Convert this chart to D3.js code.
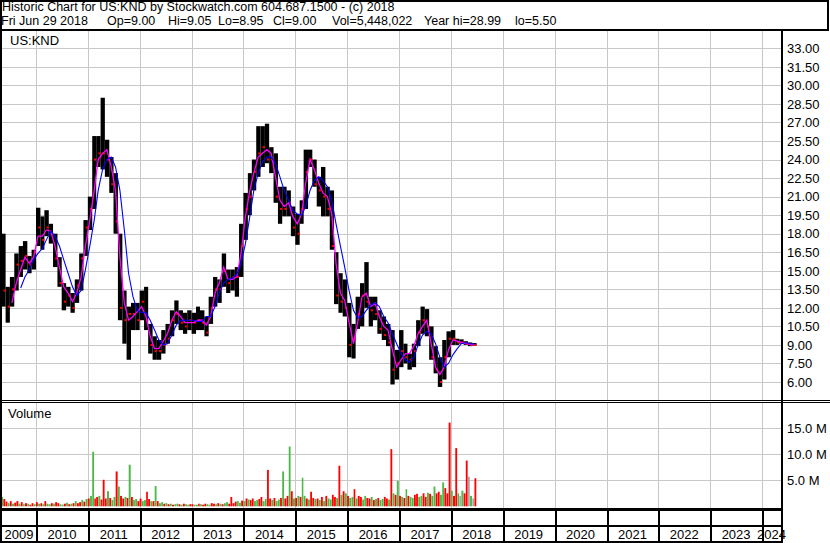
<!DOCTYPE html>
<html><head><meta charset="utf-8">
<script src="https://cdn.jsdelivr.net/npm/d3@7"></script>
<style>
body{margin:0;background:#fff}
svg{display:block}
text{font-family:"Liberation Sans",Arial,sans-serif;font-size:13px;fill:#000;white-space:pre}
text.hdr{font-size:12.5px}
</style>
</head><body>
<svg id="c" width="830" height="543"></svg>
<script>
// ---- Data (monthly, May 2009 .. Jun 2018) ----
const high = [18.0,13.7,14.5,16.4,17.0,17.4,16.2,16.7,
 20.1,19.4,19.9,18.8,18.0,16.1,14.0,13.7,13.2,14.3,16.4,19.1,
 21.0,25.9,25.9,29.0,25.6,24.2,22.9,18.0,13.4,12.1,12.4,12.4,
 13.4,13.7,10.7,9.7,9.4,10.2,10.7,11.8,12.6,11.8,11.6,11.8,
 11.6,12.1,11.8,11.3,12.9,14.5,14.3,16.4,15.1,15.1,15.3,18.8,
 21.3,22.9,24.0,26.7,26.7,26.9,25.0,24.5,21.8,21.8,21.5,20.2,
 19.6,20.7,24.8,24.8,24.0,22.6,23.4,21.8,21.5,16.5,14.8,14.3,
 12.4,10.7,12.9,14.0,15.7,12.9,12.9,11.8,11.3,10.7,10.2,8.6,
 10.2,9.1,8.3,9.1,11.0,12.1,11.9,10.5,8.9,8.0,9.4,10.1,
 10.2,9.5,9.45,9.3,9.2,9.15];
const low = [12.1,10.8,12.1,13.4,14.5,15.1,14.8,15.1,
 17.0,16.7,17.8,17.2,15.3,13.7,11.8,12.1,11.6,12.4,13.4,16.2,
 18.3,20.0,23.4,23.2,22.6,21.3,18.0,11.0,9.1,7.8,10.2,10.2,
 11.0,10.2,8.3,7.8,7.8,8.3,9.1,9.7,10.7,10.2,9.9,10.2,
 9.9,10.2,10.2,9.7,10.7,12.1,12.4,13.7,13.2,13.4,12.9,14.5,
 17.5,19.5,21.5,22.6,23.4,23.7,22.9,20.5,18.8,19.4,19.4,17.8,
 17.1,18.8,20.0,23.4,21.8,20.2,19.4,19.4,16.7,12.3,11.6,11.3,
 8.0,7.9,10.3,10.5,12.0,10.5,11.0,9.9,9.4,8.9,5.8,6.2,
 7.2,7.5,7.0,7.2,8.9,9.9,9.7,7.8,6.7,5.6,6.2,8.0,
 9.0,9.0,9.1,9.0,8.9,8.95];
const close = [13.4,12.1,13.5,15.5,15.8,16.2,15.5,16.5,
 18.5,17.5,18.5,18.0,16.0,14.0,12.5,13.0,12.0,13.8,16.0,18.5,
 20.0,24.0,24.5,24.5,24.0,22.0,19.0,12.0,11.0,11.5,11.5,11.0,
 12.5,11.0,9.0,8.5,8.5,9.0,9.5,11.0,11.5,10.8,10.5,11.0,
 10.8,11.0,10.8,10.0,12.0,13.5,13.5,15.0,14.0,14.5,14.5,17.0,
 20.0,21.0,23.0,24.5,25.0,24.0,24.0,21.0,20.0,20.0,20.5,18.5,
 18.0,20.0,23.0,24.0,22.0,21.5,21.0,20.0,17.0,13.0,12.5,12.0,
 9.0,9.5,11.5,13.0,12.5,11.8,11.5,10.3,9.8,9.2,7.0,7.5,
 8.5,8.0,7.8,8.5,10.0,11.0,10.5,8.0,7.0,6.0,8.0,9.5,
 9.5,9.2,9.2,9.1,9.0,9.0];
const maShort = [null,null,12.4,14.0,15.1,16.1,15.6,16.1,
 17.8,17.8,18.3,18.2,17.0,15.3,13.7,13.2,12.5,13.2,14.5,17.0,
 19.1,21.5,24.0,24.5,24.8,23.4,21.5,16.1,12.4,11.0,11.3,11.7,
 12.1,11.3,9.7,8.7,8.7,9.3,9.9,11.0,11.7,11.3,10.8,10.8,
 10.8,11.0,11.0,10.6,11.3,13.2,14.0,15.3,14.3,14.3,14.5,16.4,
 19.4,21.5,22.9,24.2,24.5,24.8,24.5,22.6,20.7,20.2,20.5,19.4,
 18.8,19.6,22.1,24.0,23.2,22.1,21.3,21.0,19.6,15.6,13.2,12.6,
 10.8,9.1,10.8,12.9,13.2,12.1,12.4,11.3,10.5,10.2,8.6,7.2,
 7.8,8.3,8.3,8.9,9.9,10.5,11.0,9.1,7.2,6.6,7.2,8.6,
 9.4,9.3,9.2,9.1,9.05,9.0];
const maLong = [null,null,null,null,13.6,14.5,15.1,15.9,
 16.4,16.8,17.5,18.2,17.8,17.0,15.9,14.8,13.7,13.0,13.4,15.1,
 17.0,19.1,21.5,23.2,24.0,24.2,23.4,21.5,18.3,14.8,12.9,11.8,
 11.6,11.6,11.0,10.2,9.4,9.0,9.1,9.8,10.6,11.0,11.0,11.0,
 11.0,10.9,10.9,11.3,11.3,12.1,13.2,14.0,14.3,14.4,14.7,15.6,
 17.2,19.4,21.5,22.9,23.8,24.2,24.2,23.7,22.6,21.5,20.7,19.9,
 19.6,19.5,20.2,21.5,22.3,22.6,22.3,21.8,20.7,18.8,17.0,15.3,
 13.4,11.8,11.2,11.3,11.8,12.2,12.4,12.1,11.3,10.8,9.9,9.1,
 8.3,7.8,7.6,8.0,9.0,9.8,10.1,9.9,9.1,8.0,7.2,7.5,
 8.2,8.7,9.1,9.2,9.1,9.08];
// half-month volumes (millions)
const volume = [1.8,1.4,0.9,0.6,1.0,0.5,0.7,1.0,0.5,0.8,0.4,0.6,0.5,0.3,0.6,0.4,
 0.8,0.5,0.6,0.4,1.0,0.5,0.4,0.6,0.5,0.8,0.6,0.4,0.3,0.5,0.7,0.4,0.5,0.6,1.0,0.6,0.8,1.2,0.9,1.4,
 1.5,2.0,10.5,1.5,1.8,2.0,1.3,5.1,1.5,2.9,1.6,1.2,1.8,6.7,3.8,2.0,1.5,1.8,1.6,8.0,1.8,1.2,1.4,1.0,
 1.5,1.0,1.2,2.8,1.4,1.0,1.0,3.9,1.0,0.6,0.8,0.5,0.6,0.4,0.5,0.3,0.4,0.5,0.4,0.3,0.5,0.4,0.3,0.4,
 0.4,0.3,0.3,0.5,0.4,0.3,0.5,0.4,0.3,0.6,0.5,0.4,0.6,0.5,0.4,0.6,0.8,0.5,1.8,0.6,0.9,1.0,0.7,1.1,
 1.0,1.5,1.3,1.2,1.5,1.0,1.2,1.4,1.8,1.0,1.4,7.0,1.5,1.2,1.6,1.0,1.3,1.6,6.7,1.5,2.0,11.5,2.9,1.5,
 1.6,2.0,1.8,5.5,2.0,1.5,1.3,2.8,1.6,1.4,1.5,1.2,1.8,1.0,2.0,1.5,1.3,2.2,1.8,1.6,7.8,2.2,2.9,2.5,
 2.0,1.6,1.8,3.3,1.5,2.0,1.8,1.3,2.0,1.6,1.5,1.8,1.2,1.4,1.6,1.2,1.4,1.8,1.5,1.3,11.0,2.5,2.2,4.9,
 2.0,1.8,1.6,3.3,2.0,1.8,1.6,2.2,2.4,1.8,2.0,2.5,1.8,2.6,2.4,2.0,3.8,2.5,2.8,2.2,4.6,3.5,2.5,16.1,
 3.0,2.0,11.2,2.5,2.0,3.0,2.5,8.8,5.7,2.0,1.5,5.4];
// direction per half-month, grouped by month: r = down, g = up, n = unchanged
const volDir = ["gr","rg","rg","rr","gr","gr","gr","rg",
 "rg","rg","rg","gr","gr","rg","gr","gr","gr","gr","rg","rg",
 "rg","gr","rg","rr","rg","rg","gr","gr","rg","rg","rg","gr",
 "rg","gr","rg","rg","rg","gr","gr","gr","gg","rg","rg","gr",
 "rg","gr","gr","rg","gr","rg","rg","rg","gr","rr","rg","gr",
 "gr","gr","rg","gr","rg","gr","rg","rg","gr","gr","rg","rg",
 "rg","rg","gr","gr","rg","rg","rg","rg","gr","rg","rg","rg",
 "rg","gr","gr","rg","gr","rg","rg","rg","gr","rg","rg","rg",
 "rg","rg","rg","gr","rg","gr","rg","rg","gr","rg","gr","rr",
 "gr","rg","ng","rr","ng","nr"];
const priceTicks = [33,31.5,30,28.5,27,25.5,24,22.5,21,19.5,18,16.5,15,13.5,12,10.5,9,7.5,6];
const volTicks = [15,10,5];
const years = [2009,2010,2011,2012,2013,2014,2015,2016,2017,2018,2019,2020,2021,2022,2023,2024];
const headerLine1 = "Historic Chart for US:KND by Stockwatch.com 604.687.1500 - (c) 2018";
const headerLine2 = ["Fri Jun 29 2018","Op=9.00","Hi=9.05","Lo=8.95","Cl=9.00","Vol=5,448,022","Year hi=28.99","lo=5.50"];

// ---- Layout ----
const svg = d3.select('#c');
const L = 2, R = 781, PT = 31, PB = 400, VT = 403, VB = 508;
const x = d3.scaleTime().domain([new Date(2010,0,1), new Date(2024,0,1)]).range([36,762]);
const y = d3.scaleLinear().domain([6,33]).range([382,48.3]);
const yv = d3.scaleLinear().domain([0,15]).range([506.3,428.3]);
const months = d3.timeMonth.range(new Date(2009,4,1), new Date(2018,6,1));
const GRID = '#c8c8c8';

svg.append('rect').attr('width',830).attr('height',543).attr('fill','#fff');

const defs = svg.append('defs');
defs.append('clipPath').attr('id','cp').append('rect').attr('x',L).attr('y',PT).attr('width',R-L).attr('height',PB-PT);
defs.append('clipPath').attr('id','cv').append('rect').attr('x',L).attr('y',VT).attr('width',R-L).attr('height',VB-VT);

// grids
const g = svg.append('g').attr('shape-rendering','crispEdges');
g.selectAll('.hp').data(priceTicks).enter().append('line')
 .attr('x1',L).attr('x2',R).attr('y1',d=>Math.round(y(d))+0.5).attr('y2',d=>Math.round(y(d))+0.5)
 .attr('stroke',GRID);
g.selectAll('.hv').data(volTicks).enter().append('line')
 .attr('x1',L).attr('x2',R).attr('y1',d=>Math.round(yv(d))+0.5).attr('y2',d=>Math.round(yv(d))+0.5)
 .attr('stroke',GRID);
const yearStarts = years.slice(1).map(yr=>new Date(yr,0,1));
yearStarts.forEach(dt=>{
  const xx = Math.round(x(dt))+0.5;
  g.append('line').attr('x1',xx).attr('x2',xx).attr('y1',PT).attr('y2',PB).attr('stroke',GRID);
  g.append('line').attr('x1',xx).attr('x2',xx).attr('y1',VT).attr('y2',VB).attr('stroke',GRID);
});

// price bars
const pg = svg.append('g').attr('clip-path','url(#cp)');
months.forEach((m,i)=>{
  const x0 = x(m), x1 = x(d3.timeMonth.offset(m,1));
  pg.append('rect').attr('x',x0).attr('width',x1-x0)
    .attr('y',y(high[i])).attr('height',y(low[i])-y(high[i])).attr('fill','#000');
});
months.forEach((m,i)=>{
  const x1 = x(d3.timeMonth.offset(m,1));
  pg.append('rect').attr('x',x1-2.2).attr('width',2.2)
    .attr('y',y(close[i])-1).attr('height',2).attr('fill','#ff0000');
});
const mid = m => new Date(m.getFullYear(), m.getMonth(), 15);
const lineGen = arr => d3.line().defined((d,i)=>arr[i]!=null).x((d,i)=>x(mid(months[i]))).y((d,i)=>y(arr[i]))(months);
pg.append('path').attr('d',lineGen(maShort)).attr('fill','none').attr('stroke','#ff00ff').attr('stroke-width',1.3);
pg.append('path').attr('d',lineGen(maLong)).attr('fill','none').attr('stroke','#0000ff').attr('stroke-width',1.1);

// volume bars
const vg = svg.append('g').attr('clip-path','url(#cv)');
const colors = {r:'#ff0000', g:'#4cb848', n:'#a8a8a8'};
volume.forEach((v,h)=>{
  const m = months[Math.floor(h/2)];
  const d0 = h%2===0 ? m : new Date(m.getFullYear(), m.getMonth(), 16);
  const d1 = h%2===0 ? new Date(m.getFullYear(), m.getMonth(), 16) : d3.timeMonth.offset(m,1);
  const x0 = x(d0), w = x(d1)-x0;
  const c = volDir[Math.floor(h/2)][h%2];
  vg.append('rect').attr('x',x0).attr('width',Math.max(1,w-0.3))
    .attr('y',yv(v)).attr('height',yv(0)-yv(v)).attr('fill',colors[c]);
});

// frames
const f = svg.append('g').attr('stroke','#000').attr('shape-rendering','crispEdges');
f.append('rect').attr('x',1).attr('y',1).attr('width',827).attr('height',29).attr('fill','none').attr('stroke-width',2);
f.append('line').attr('x1',1).attr('x2',1).attr('y1',30).attr('y2',543).attr('stroke-width',2);
f.append('line').attr('x1',782).attr('x2',782).attr('y1',30).attr('y2',543).attr('stroke-width',2);
f.append('line').attr('x1',0).attr('x2',830).attr('y1',400.5).attr('y2',400.5).attr('stroke-width',1);
f.append('line').attr('x1',0).attr('x2',830).attr('y1',402.5).attr('y2',402.5).attr('stroke-width',1);
f.append('line').attr('x1',0).attr('x2',782).attr('y1',509.5).attr('y2',509.5).attr('stroke-width',3);
f.append('line').attr('x1',0).attr('x2',782).attr('y1',526).attr('y2',526).attr('stroke-width',2);
f.append('line').attr('x1',0).attr('x2',782).attr('y1',541.5).attr('y2',541.5).attr('stroke-width',2);
yearStarts.forEach(dt=>{
  const xx = Math.round(x(dt))+0.5;
  f.append('line').attr('x1',xx).attr('x2',xx).attr('y1',509).attr('y2',542).attr('stroke-width',2);
});

// texts
svg.append('text').attr('class','hdr').attr('x',2).attr('y',11).text(headerLine1);
const l2x = [1,107,168,218,273,332,424,515];
const t2 = svg.append('text').attr('class','hdr').attr('y',25);
headerLine2.forEach((s,i)=>t2.append('tspan').attr('x',l2x[i]).text(s));
svg.append('text').attr('x',10).attr('y',45).text('US:KND');
svg.append('text').attr('x',8).attr('y',418).text('Volume');
svg.selectAll('.pt').data(priceTicks).enter().append('text')
 .attr('x',787).attr('y',d=>y(d)+4.8).text(d=>d.toFixed(2));
svg.selectAll('.vt').data(volTicks).enter().append('text')
 .attr('x',787).attr('y',d=>yv(d)+4.8).text(d=>d.toFixed(1)+' M');
years.forEach(yr=>{
  const a = Math.max(L, x(new Date(yr,0,1))), b = Math.min(R, x(new Date(yr+1,0,1)));
  svg.append('text').attr('x',(a+b)/2).attr('y',539).attr('text-anchor','middle').text(String(yr));
});
</script>
</body></html>
